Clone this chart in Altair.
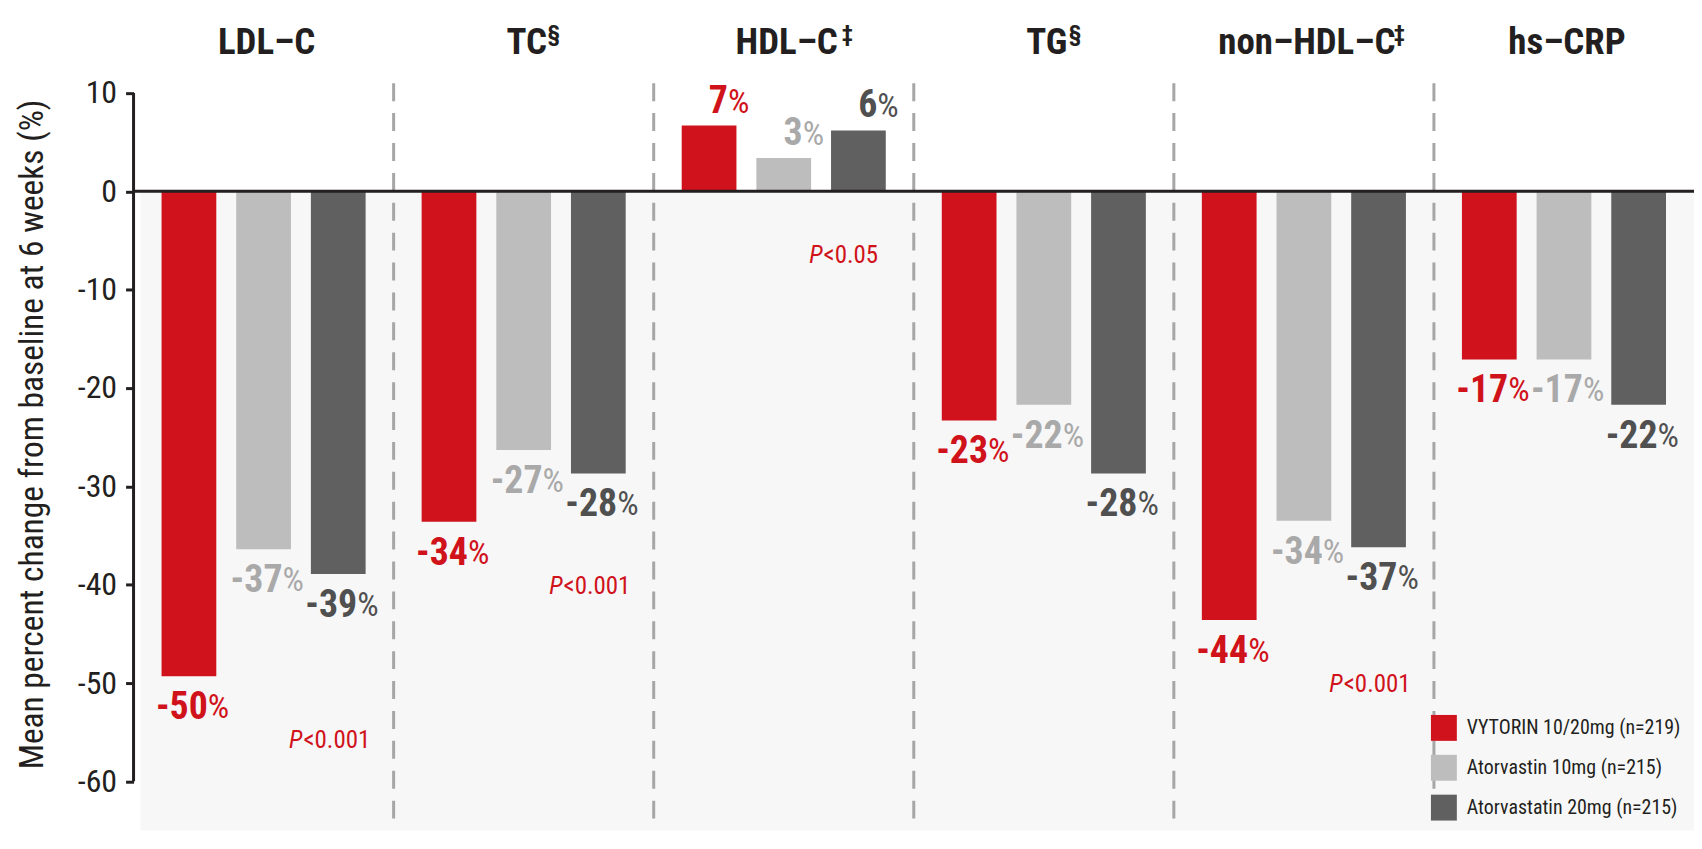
import altair as alt
import pandas as pd

# ---------------- data ----------------
categories = ["LDL–C", "TC", "HDL–C", "TG", "non–HDL–C", "hs–CRP"]
title_marks = ["", "§", "‡", "§", "‡", ""]
series = ["VYTORIN 10/20mg (n=219)", "Atorvastin 10mg (n=215)", "Atorvastatin 20mg (n=215)"]

vytorin = [-49.3, -33.6, 6.7, -23.3, -43.6, -17.1]
ator10 = [-36.4, -26.3, 3.4, -21.7, -33.5, -17.1]
ator20 = [-38.9, -28.7, 6.2, -28.7, -36.2, -21.7]

vytorin_lbl = [-50, -34, 7, -23, -44, -17]
ator10_lbl = [-37, -27, 3, -22, -34, -17]
ator20_lbl = [-39, -28, 6, -28, -37, -22]

p_values = ["<0.001", "<0.001", "<0.05", "", "<0.001", ""]

y_ticks = [10, 0, -10, -20, -30, -40, -50, -60]

# ---------------- tables ----------------
rows = []
for vals, lbls, s in [(vytorin, vytorin_lbl, series[0]),
                      (ator10, ator10_lbl, series[1]),
                      (ator20, ator20_lbl, series[2])]:
    for c, v, l in zip(categories, vals, lbls):
        rows.append({"category": c, "series": s, "value": v, "label": str(l)})
df = pd.DataFrame(rows)

cat_df = pd.DataFrame({"category": categories, "title": categories, "mark": title_marks})
sep_df = pd.DataFrame({"category": categories[1:]})
mins = df.groupby("category")["value"].min()
p_df = pd.DataFrame({"category": categories, "p": p_values})
p_df["y"] = [min(0.0, mins[c]) - 7.3 for c in categories]
p_df = p_df[p_df["p"] != ""]
one = pd.DataFrame({"a": [0]})

# ---------------- style ----------------
NARROW = "'Roboto Condensed', 'Liberation Sans Narrow', 'DejaVu Sans Condensed', sans-serif"
INK = "#231f20"
W, H = 1566, 750
bar_colors = ["#cf121c", "#bdbdbd", "#606060"]
text_colors = ["#d0121b", "#a9a9a9", "#505050"]

x_enc = alt.X("category:N", sort=categories,
              scale=alt.Scale(paddingInner=0, paddingOuter=0), axis=None)
xo_enc = alt.XOffset("series:N", sort=series,
                     scale=alt.Scale(paddingInner=0.267, paddingOuter=0.375))
y_scale = alt.Scale(domain=[-65, 11], nice=False, zero=False)

bg = alt.Chart(one).mark_rect(color="#f7f7f7").encode(
    x=alt.value(7), x2=alt.value(W), y=alt.datum(0, scale=y_scale), y2=alt.value(H)
)

separators = alt.Chart(sep_df).mark_rule(
    color="#a6a6a6", strokeWidth=3, strokeDash=[18, 12]
).encode(
    x=alt.X("category:N", sort=categories, bandPosition=0,
            scale=alt.Scale(paddingInner=0, paddingOuter=0), axis=None),
    y=alt.value(0), y2=alt.value(H)
)

bars = alt.Chart(df).mark_bar().encode(
    x=x_enc,
    xOffset=xo_enc,
    y=alt.Y("value:Q", scale=y_scale,
            axis=alt.Axis(values=y_ticks, domain=False, grid=False, tickSize=8,
                          tickWidth=3, tickColor=INK, labelFontSize=32,
                          labelExpr="toString(datum.value)",
                          labelFont=NARROW, labelColor=INK, labelPadding=9,
                          title="Mean percent change from baseline at 6 weeks (%)",
                          titleFontSize=33.5, titleFont=NARROW, titleFontWeight="normal",
                          titleColor=INK, titleAngle=270, titleX=-101, titleY=352,
                          titleAlign="center", titleBaseline="middle")),
    y2=alt.datum(0),
    color=alt.Color("series:N", sort=series,
                    scale=alt.Scale(domain=series, range=bar_colors),
                    legend=alt.Legend(orient="none", legendX=1302, legendY=634,
                                      title=None, symbolType="square",
                                      symbolSize=676, symbolStrokeWidth=0,
                                      labelFontSize=20, labelFont=NARROW,
                                      labelColor=INK, rowPadding=14,
                                      labelOffset=10, padding=0, labelLimit=0,
                                      direction="vertical")),
)

fill_enc = alt.Fill("series:N", sort=series,
                    scale=alt.Scale(domain=series, range=text_colors), legend=None)
SPLIT = 19

neg = df[df["value"] < 0]
pos = df[df["value"] > 0]

neg_num = alt.Chart(neg).mark_text(
    baseline="top", align="right", dx=SPLIT, dy=13, fontSize=38,
    fontWeight="bold", font=NARROW
).encode(x=x_enc, xOffset=xo_enc, y=alt.Y("value:Q", scale=y_scale),
         text="label:N", fill=fill_enc)
neg_pct = alt.Chart(neg).mark_text(
    baseline="top", align="left", dx=SPLIT, dy=15, fontSize=34,
    font=NARROW
).encode(x=x_enc, xOffset=xo_enc, y=alt.Y("value:Q", scale=y_scale),
         text=alt.value("%"), fill=fill_enc)
pos_num = alt.Chart(pos).mark_text(
    baseline="alphabetic", align="right", dx=SPLIT, dy=-13, fontSize=38,
    fontWeight="bold", font=NARROW
).encode(x=x_enc, xOffset=xo_enc, y=alt.Y("value:Q", scale=y_scale),
         text="label:N", fill=fill_enc)
pos_pct = alt.Chart(pos).mark_text(
    baseline="alphabetic", align="left", dx=SPLIT, dy=-13, fontSize=34,
    font=NARROW
).encode(x=x_enc, xOffset=xo_enc, y=alt.Y("value:Q", scale=y_scale),
         text=alt.value("%"), fill=fill_enc)

zero_line = alt.Chart(one).mark_rule(color=INK, strokeWidth=3).encode(
    x=alt.value(0), x2=alt.value(W), y=alt.datum(0, scale=y_scale)
)
y_line = alt.Chart(one).mark_rule(color=INK, strokeWidth=3).encode(
    x=alt.value(0), y=alt.datum(10, scale=y_scale), y2=alt.datum(-60)
)

titles = alt.Chart(cat_df).mark_text(
    baseline="alphabetic", align="center", dx=3, fontSize=37, fontWeight="bold",
    font=NARROW, color=INK
).encode(x=x_enc, y=alt.value(-29), text="title:N")

sup_layers = []
sup_dx = {"TC": 24, "HDL–C": 58, "TG": 25, "non–HDL–C": 90}
for c, dxv in sup_dx.items():
    sup_layers.append(
        alt.Chart(cat_df[cat_df["category"] == c]).mark_text(
            baseline="top", align="left", dx=dxv, fontSize=23, fontWeight="bold",
            font=NARROW, color=INK
        ).encode(x=x_enc, y=alt.value(-60), text="mark:N")
    )

p_letter = alt.Chart(p_df).mark_text(
    baseline="alphabetic", align="right", dx=39, fontSize=25, fontStyle="italic",
    font=NARROW, color="#d0121b"
).encode(x=x_enc, y=alt.Y("y:Q", scale=y_scale), text=alt.value("P"))
p_rest = alt.Chart(p_df).mark_text(
    baseline="alphabetic", align="left", dx=40, fontSize=25,
    font=NARROW, color="#d0121b"
).encode(x=x_enc, y=alt.Y("y:Q", scale=y_scale), text="p:N")

chart = alt.layer(
    bg, separators, bars, zero_line, y_line, neg_num, neg_pct, pos_num, pos_pct,
    titles, *sup_layers, p_letter, p_rest
).properties(
    width=W, height=H,
    autosize=alt.AutoSizeParams(type="none"),
    padding={"left": 126, "top": 74, "right": 0, "bottom": 0},
    background="white",
).configure_view(stroke=None)

chart.save("out.html", embed_options={"renderer": "svg", "actions": False})
